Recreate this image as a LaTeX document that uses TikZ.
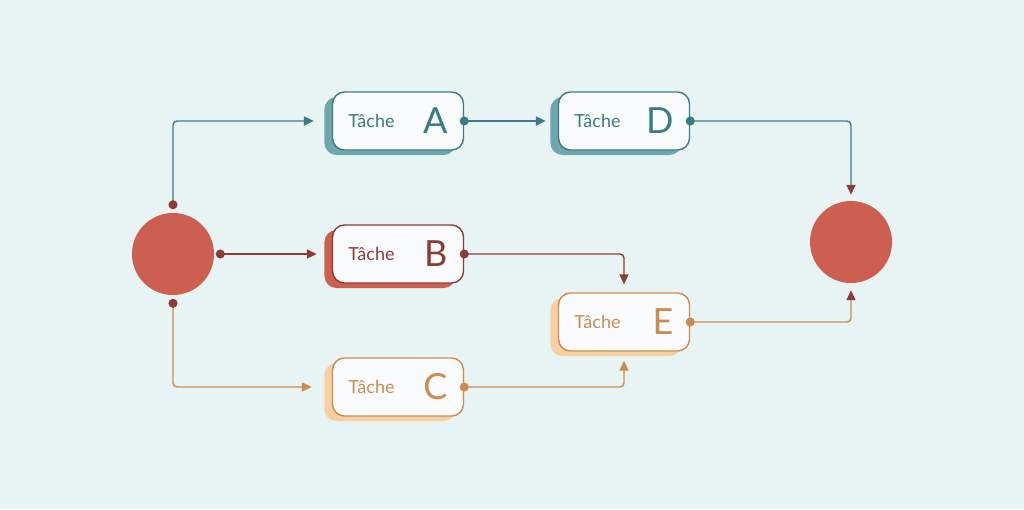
\documentclass[tikz,border=0pt]{standalone}
\usepackage{fontspec}
\setmainfont{Lato}
\usetikzlibrary{arrows.meta,calc,positioning,shadows}

\definecolor{hintergrund}{HTML}{E8F4F3}
\definecolor{tuerkis}{HTML}{3A7C86}
\definecolor{tuerkishell}{HTML}{6EA7AE}
\definecolor{dunkelrot}{HTML}{8E3B35}
\definecolor{rot}{HTML}{CC5F50}
\definecolor{ocker}{HTML}{CD8C4E}
\definecolor{ockerhell}{HTML}{F6CFA3}
\definecolor{kasten}{HTML}{F9FBFC}

\tikzset{
  aufgabe/.style 2 args={draw=#1, text=#1, fill=kasten, line width=1pt,
    rounded corners=0.3cm, minimum height=1.45cm, text width=2.475cm, inner xsep=0.4cm,
    general shadow={fill=#2, shadow xshift=-0.2cm, shadow yshift=-0.125cm}},
  kreis/.style={circle, fill=rot, minimum size=2.05cm, inner sep=0pt},
  verbinder/.style n args={3}{draw=#1, line width=1pt, rounded corners=0.1cm, shorten <=-3.2pt,
    arrows={{Circle[length=6.4pt,color=#2]}-{Triangle[length=7pt,width=6.4pt,color=#3]}}}
}

\begin{document}
\begin{tikzpicture}[x=0.025cm, y=-0.025cm]
%Hintergrund, 1 Einheit = 1 Pixel des Bildes
\fill[hintergrund] (0,0) rectangle (1024,509);
\useasboundingbox (0,0) rectangle (1024,509);
%Start und Ziel
\node[kreis] (S) at (173,254) {};
\node[kreis] (Z) at (851,242) {};
%Die fuenf Aufgaben
\foreach \name/\x/\y/\farbe/\schatten in {A/398/121/tuerkis/tuerkishell, D/624/121/tuerkis/tuerkishell,
  B/398/254/dunkelrot/rot, E/624/322/ocker/ockerhell, C/398/387/ocker/ockerhell}{
\node[aufgabe={\farbe}{\schatten}] (\name) at (\x,\y)
  {\raisebox{0.17cm}{\fontsize{12.8}{14}\selectfont T\^ache}\hfill{\fontsize{25.6}{28}\selectfont \name}};
}
%Verbindungen
\draw[verbinder={tuerkis}{dunkelrot}{tuerkis}, shorten >=0.45cm] ($(S.north)+(0,-8)$) |- (A.west);
\draw[verbinder={dunkelrot}{dunkelrot}{dunkelrot}, shorten >=0.375cm] ($(S.east)+(6,0)$) -- (B.west);
\draw[verbinder={ocker}{dunkelrot}{ocker}, shorten >=0.5cm] ($(S.south)+(0,8)$) |- (C.west);
\draw[verbinder={tuerkis}{tuerkis}{tuerkis}, shorten >=0.3cm] (A.east) -- (D.west);
\draw[verbinder={tuerkis}{tuerkis}{dunkelrot}, shorten >=0.15cm] (D.east) -| (Z.north);
\draw[verbinder={dunkelrot}{dunkelrot}{dunkelrot}, shorten >=0.2cm] (B.east) -| (E.north);
\draw[verbinder={ocker}{ocker}{ocker}, shorten >=0.225cm] (C.east) -| (E.south);
\draw[verbinder={ocker}{ocker}{dunkelrot}, shorten >=0.175cm] (E.east) -| (Z.south);
\end{tikzpicture}
\end{document}
